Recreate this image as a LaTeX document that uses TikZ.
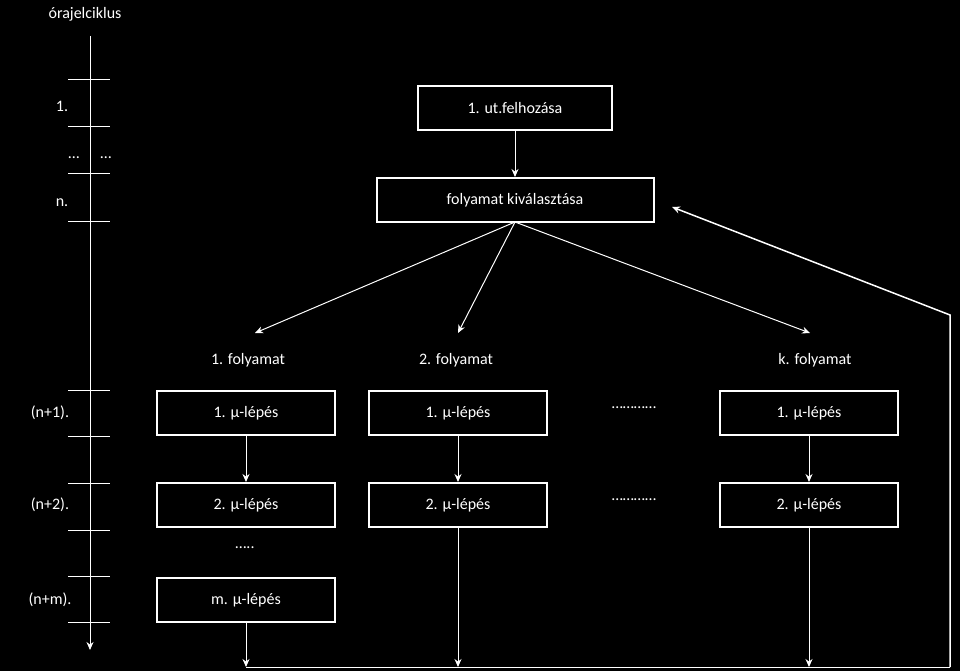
\documentclass[tikz,border=0pt]{standalone}
\usepackage{fontspec}
\setmainfont{Carlito}
\usetikzlibrary{arrows.meta}
\begin{document}
\begin{tikzpicture}[x=1pt,y=-1pt,
  every node/.style={text=white,font=\fontsize{16}{18}\selectfont},
  bx/.style={draw=white,line width=2pt,minimum height=44pt,inner sep=0pt},
  ln/.style={draw=white,line width=1pt},
  ar/.style={ln,-{Stealth[length=8pt,width=7pt]}}]
\fill[black] (0,0) rectangle (960,671);
\useasboundingbox (0,0) rectangle (960,671);
\node (tt) at (85,14) {órajelciklus};
\coordinate (a0) at (90,36); \coordinate (a1) at (90,650);
\draw[ar] (a0) -- (a1);
\foreach \y in {80,127,174,221,390,436,483,530,576,622}
  \draw[ln] (68,\y) -- (110,\y);
\node at (62,106) {1.};
\node at (74,158) {…}; \node at (106,158) {…};
\node at (62,203) {n.};
\node at (50,413) {(n+1).};
\node at (50,505) {(n+2).};
\node at (50,600) {(n+m).};
\node[bx,minimum width=194pt] (f) at (515,108) {1. ut.felhozása};
\node[bx,minimum width=277pt] (k) at (515,200) {folyamat kiválasztása};
\draw[ar] (f) -- (k);
\node (l1) at (248,360) {1. folyamat};
\node (l2) at (456,360) {2. folyamat};
\node (l3) at (815,360) {k. folyamat};
\coordinate (ks) at (515,222);
\coordinate (t1) at (255,333); \coordinate (t2) at (458,333); \coordinate (t3) at (810,333);
\draw[ar] (ks) -- (t1); \draw[ar] (ks) -- (t2); \draw[ar] (ks) -- (t3);
\foreach \c/\x in {1/246,2/458,3/809}{
  \node[bx,minimum width=178pt] (r\c) at (\x,413) {1. μ-lépés};
  \node[bx,minimum width=178pt] (s\c) at (\x,505) {2. μ-lépés};
  \draw[ar] (r\c) -- (s\c);
}
\node at (634,408) {…………}; \node at (634,500) {…………};
\node at (245,548) {…..};
\node[bx,minimum width=178pt] (m) at (246,600) {m. μ-lépés};
\coordinate (b1) at (246,667); \coordinate (b2) at (458,667); \coordinate (b3) at (809,667);
\draw[ar] (m) -- (b1); \draw[ar] (s2) -- (b2); \draw[ar] (s3) -- (b3);
\coordinate (c1) at (950,667); \coordinate (c2) at (950,315); \coordinate (kt) at (672,207);
\draw[ln] (b1) -- (c1);
\draw[ar,line width=1.5pt] (c1) -- (c2) -- (kt);
\end{tikzpicture}
\end{document}
